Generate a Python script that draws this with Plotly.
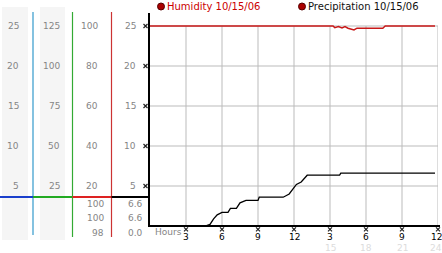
import plotly.graph_objects as go

# ---------------- data ----------------
precip_hours = [0, 4.6, 5.0, 5.3, 5.6, 6.0, 6.5, 6.7, 7.2, 7.5, 8.0, 9.0, 9.1, 11.1, 11.6, 12.2, 12.6, 13.1, 15.8, 15.9, 23.75]
precip_values = [0, 0, 0.2, 0.9, 1.4, 1.7, 1.7, 2.2, 2.2, 2.9, 3.2, 3.2, 3.6, 3.6, 4.0, 5.2, 5.5, 6.35, 6.35, 6.6, 6.6]

humidity_hours = [0, 15.25, 15.4, 15.7, 16.0, 16.25, 16.5, 17.0, 17.25, 19.4, 19.6, 23.75]
humidity_values = [100, 100, 99.2, 99.7, 99.0, 99.7, 98.9, 98.0, 98.9, 98.9, 100, 100]

col1_ticks = [5, 10, 15, 20, 25]          # same scale as main axis
col2_ticks = [25, 50, 75, 100, 125]       # 5x main scale
col3_ticks = [20, 40, 60, 80, 100]        # humidity scale (4x main)
col4_ticks = [5, 10, 15, 20, 25]          # precipitation scale

humidity_stats = ["100", "100", "98"]
precip_stats = ["6.6", "6.6", "0.0"]

x_tick_hours = [3, 6, 9, 12, 15, 18, 21, 24]
x_tick_labels = ["3", "6", "9", "12", "3", "6", "9", "12"]
x_tick_hours_24 = [15, 18, 21, 24]
x_tick_labels_24 = ["15", "18", "21", "24"]
grid_values = [5, 10, 15, 20, 25]

legend_names = ["Humidity 10/15/06", "Precipitation 10/15/06"]

# ---------------- helpers ----------------
W, H = 442, 253
def px(x):
    return x / W
def py(y):
    return 1 - y / H

FONT = "DejaVu Sans"
GREY = "#858585"

fig = go.Figure()

fig.add_trace(go.Scatter(x=precip_hours, y=precip_values, mode="lines",
                         line=dict(color="#000000", width=1.3),
                         yaxis="y", hoverinfo="skip", showlegend=False))
fig.add_trace(go.Scatter(x=humidity_hours, y=humidity_values, mode="lines",
                         line=dict(color="#c81818", width=1.5),
                         yaxis="y2", hoverinfo="skip", showlegend=False))

# tick marks (small hatched glyphs)
tick_marker = dict(symbol="x-thin", size=4, color="#222222", line=dict(width=1.2, color="#222222"))
fig.add_trace(go.Scatter(x=[-0.375] * len(grid_values), y=grid_values, mode="markers",
                         marker=tick_marker, cliponaxis=False, hoverinfo="skip", showlegend=False))
fig.add_trace(go.Scatter(x=x_tick_hours, y=[-0.42] * len(x_tick_hours), mode="markers",
                         marker=tick_marker, cliponaxis=False, hoverinfo="skip", showlegend=False))

shapes = []
# gridlines
for v in grid_values:
    shapes.append(dict(type="line", xref="x", yref="y", x0=0, x1=24, y0=v, y1=v,
                       line=dict(color="#bbbbbb", width=1), layer="below"))
for hgrid in x_tick_hours:
    shapes.append(dict(type="line", xref="x", yref="y", x0=hgrid, x1=hgrid, y0=0, y1=25,
                       line=dict(color="#bbbbbb", width=1), layer="below"))

# shaded label columns
for x0, x1 in [(2, 28), (40, 65)]:
    shapes.append(dict(type="rect", xref="paper", yref="paper", x0=px(x0), x1=px(x1),
                       y0=py(240), y1=py(7), fillcolor="#f5f5f5", line=dict(width=0), layer="below"))

# vertical colored axis lines
for x, col, yb in [(33, "#3399cc", 235), (72.5, "#33aa33", 237), (111.5, "#cc3333", 237)]:
    shapes.append(dict(type="line", xref="paper", yref="paper", x0=px(x), x1=px(x),
                       y0=py(yb), y1=py(12), line=dict(color=col, width=1.2)))
# main black axes
shapes.append(dict(type="line", xref="paper", yref="paper", x0=px(149), x1=px(149),
                   y0=py(227), y1=py(13), line=dict(color="#000", width=2)))
shapes.append(dict(type="line", xref="paper", yref="paper", x0=px(148), x1=px(440),
                   y0=py(226), y1=py(226), line=dict(color="#000", width=2)))

# horizontal colored separator
for x0, x1, col in [(0, 33, "#1a3fcc"), (33, 72.5, "#22aa22"), (72.5, 111.5, "#dd2222"), (111.5, 149, "#000000")]:
    shapes.append(dict(type="line", xref="paper", yref="paper", x0=px(x0), x1=px(x1),
                       y0=py(197), y1=py(197), line=dict(color=col, width=2)))

# legend dots
for cx in [161, 302]:
    shapes.append(dict(type="circle", xref="paper", yref="paper", x0=px(cx - 3.5), x1=px(cx + 3.5),
                       y0=py(10), y1=py(3), fillcolor="#aa0000", line=dict(color="#550000", width=1)))

ann = []
def label(text, x, y, xref="paper", yref="paper", xanchor="right", color=GREY, size=9, xshift=0):
    ann.append(dict(text=text, x=x, y=y, xref=xref, yref=yref, xanchor=xanchor, yanchor="middle",
                    showarrow=False, xshift=xshift, font=dict(family=FONT, size=size, color=color)))

for v in col1_ticks:
    label(str(v), px(20.5), v, yref="y")
for v in col2_ticks:
    label(str(v), px(61.5), v / 5, yref="y")
for v in col3_ticks:
    label(str(v), px(99.5), v / 4, yref="y")
for v in col4_ticks:
    label(str(v), px(137.5), v, yref="y")

for i, (hs, ps) in enumerate(zip(humidity_stats, precip_stats)):
    yy = py(204 + 14.3 * i)
    label(hs, px(105.5), yy)
    label(ps, px(144.5), yy)

n = len(x_tick_hours)
for i, (hx, t) in enumerate(zip(x_tick_hours, x_tick_labels)):
    label(t, hx, py(237), xref="x", xanchor="center", color="#000000", size=9,
          xshift=-2 if i == n - 1 else 0)
for i, (hx, t) in enumerate(zip(x_tick_hours_24, x_tick_labels_24)):
    label(t, hx, py(247.5), xref="x", xanchor="center", color="#dcdcdc", size=9,
          xshift=-2 if i == len(x_tick_hours_24) - 1 else 0)

label("Hours", px(153), py(232), xanchor="left", color=GREY, size=9)
label(legend_names[0], px(165), py(6.5), xanchor="left", color="#cc0000", size=10)
label(legend_names[1], px(306), py(6.5), xanchor="left", color="#111111", size=10)

# axes: range padded slightly so the small tick glyphs sit inside the subplot
fig.update_layout(
    width=W, height=H, margin=dict(l=0, r=0, t=0, b=0),
    paper_bgcolor="white", plot_bgcolor="white",
    xaxis=dict(domain=[px(144), px(438)], range=[-0.5, 24], visible=False, fixedrange=True),
    yaxis=dict(domain=[py(232), py(13)], range=[-0.75, 26.625], visible=False, fixedrange=True),
    yaxis2=dict(overlaying="y", range=[-3, 106.5], visible=False, fixedrange=True),
    shapes=shapes, annotations=ann, showlegend=False,
)

fig.write_html("out.html")
